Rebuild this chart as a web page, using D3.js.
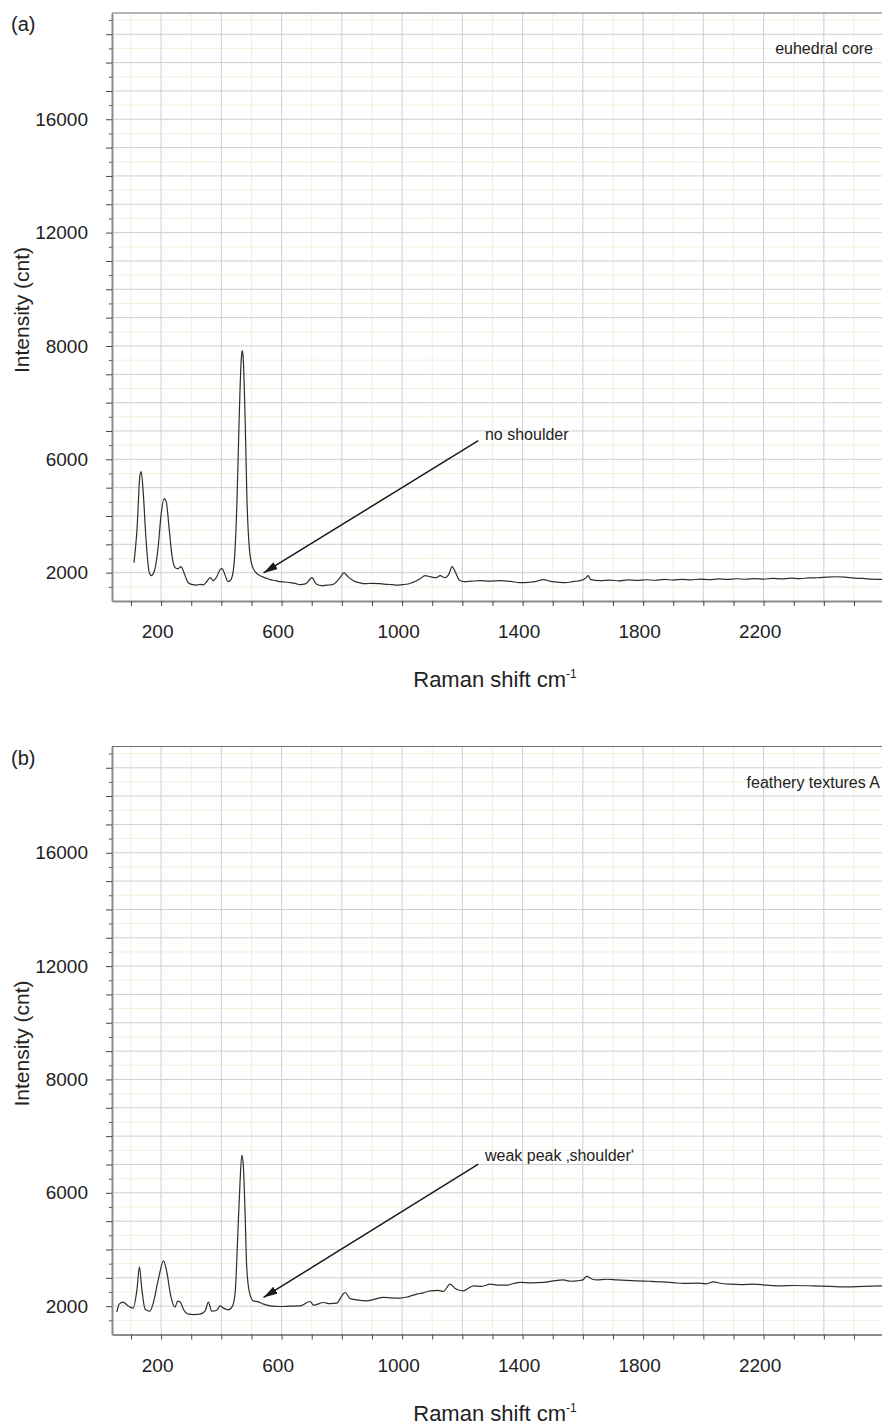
<!DOCTYPE html>
<html>
<head>
<meta charset="utf-8">
<script src="https://cdn.jsdelivr.net/npm/d3@7"></script>
<style>
  body { margin: 0; background: #fff; }
  svg text { font-family: "Liberation Sans", Arial, sans-serif; fill: #222; }
</style>
</head>
<body>
<div class="vis"></div>
<script>
(function() {
  'use strict';

  // tick labels as printed on the figure
  var xTickValues = [200, 600, 1000, 1400, 1800, 2200];
  var yTickValues = [2000, 6000, 10000, 14000, 18000];
  var yTickLabels = ['2000', '6000', '8000', '12000', '16000'];

  // (a) euhedral core
  var shiftA = [110, 120, 130, 134, 140, 150, 160, 167, 177, 190, 200, 210, 217, 227, 237, 247, 256, 266, 276, 290,
    306, 318, 329, 340, 349, 363, 373, 383, 396, 402, 412, 422, 432, 442, 452, 459, 466, 469, 472, 479,
    485, 492, 502, 515, 535, 550, 562, 580, 595, 612, 628, 645, 661, 681, 701, 714, 734, 750, 768, 794,
    807, 820, 844, 860, 877, 900, 927, 950, 967, 985, 1000, 1020, 1033, 1060, 1076, 1093, 1113, 1126, 1143, 1156,
    1166, 1176, 1189, 1206, 1230, 1259, 1290, 1325, 1360, 1392, 1420, 1441, 1468, 1498, 1520, 1541, 1570, 1591, 1611, 1617,
    1627, 1657, 1690, 1720, 1750, 1780, 1810, 1840, 1870, 1900, 1930, 1960, 1990, 2020, 2050, 2080, 2110, 2140, 2170, 2200,
    2230, 2260, 2290, 2320, 2350, 2380, 2410, 2440, 2470, 2500, 2530, 2560, 2593];
  var intensityA = [2353, 3518, 5460, 5565, 4930, 3165, 2035, 1894, 2035, 2880, 4047, 4612, 4506, 3518, 2530, 2176, 2140, 2212, 2000, 1647,
    1576, 1560, 1590, 1570, 1647, 1823, 1717, 1823, 2106, 2141, 1930, 1682, 1753, 2282, 4577, 7400, 9519, 9837, 9660, 7400,
    4577, 2988, 2247, 2000, 1859, 1800, 1753, 1720, 1682, 1670, 1647, 1620, 1576, 1611, 1823, 1611, 1541, 1560, 1576, 1823,
    2000, 1859, 1682, 1640, 1611, 1625, 1611, 1590, 1576, 1560, 1576, 1600, 1647, 1788, 1894, 1859, 1823, 1894, 1823, 1965,
    2212, 2035, 1753, 1682, 1700, 1717, 1700, 1717, 1690, 1647, 1660, 1682, 1753, 1682, 1660, 1647, 1690, 1717, 1823, 1894,
    1753, 1717, 1735, 1710, 1745, 1725, 1750, 1732, 1760, 1740, 1765, 1748, 1770, 1752, 1778, 1760, 1785, 1768, 1790, 1775,
    1795, 1780, 1805, 1790, 1815, 1820, 1845, 1855, 1840, 1810, 1795, 1770, 1760];

  // (b) feathery textures A
  var shiftB = [53, 61, 74, 88, 97, 107, 120, 128, 136, 147, 163, 173, 191, 208, 219, 232, 246, 255, 264, 274,
    291, 310, 329, 346, 357, 368, 385, 396, 407, 423, 437, 446, 454, 462, 468, 473, 479, 484, 493, 506,
    523, 540, 562, 595, 628, 661, 695, 706, 739, 760, 783, 800, 811, 827, 849, 882, 910, 938, 965, 993,
    1020, 1049, 1070, 1093, 1120, 1137, 1159, 1176, 1203, 1237, 1265, 1292, 1320, 1347, 1370, 1392, 1430, 1469, 1502, 1535,
    1560, 1580, 1600, 1613, 1630, 1646, 1680, 1713, 1745, 1779, 1820, 1867, 1900, 1933, 1978, 2010, 2033, 2060, 2088, 2125,
    2166, 2210, 2254, 2300, 2365, 2420, 2476, 2530, 2593];
  var intensityB = [1788, 2070, 2140, 2030, 1965, 1930, 2600, 3377, 2600, 1894, 1823, 2070, 2953, 3600, 3200, 2364, 1965, 2176, 2141, 1894,
    1717, 1700, 1717, 1823, 2141, 1823, 1858, 2010, 1930, 1870, 2000, 2494, 4365, 6377, 7330, 6953, 5188, 3423, 2494, 2188,
    2152, 2070, 2010, 1988, 2000, 2010, 2165, 2035, 2130, 2090, 2105, 2364, 2483, 2270, 2222, 2188, 2250, 2307, 2290, 2282,
    2330, 2424, 2470, 2540, 2560, 2519, 2777, 2625, 2540, 2717, 2700, 2777, 2740, 2741, 2800, 2837, 2820, 2837, 2893, 2928,
    2880, 2893, 2930, 3048, 2960, 2928, 2950, 2928, 2910, 2893, 2880, 2858, 2830, 2801, 2812, 2790, 2858, 2800, 2777, 2760,
    2777, 2740, 2717, 2730, 2717, 2700, 2681, 2700, 2717];

  var panels = [
    {tag: '(a)', note: 'euhedral core', top: 13, shift: shiftA, intensity: intensityA, noteRight: 9,
      arrowText: 'no shoulder', tip: [540, 1990], tail: [1253, 6660], textAt: [1275, 6690]},
    {tag: '(b)', note: 'feathery textures A', top: 746.5, shift: shiftB, intensity: intensityB, noteRight: 2,
      arrowText: 'weak peak \u201Ashoulder\u2018', tip: [540, 2307], tail: [1253, 7013], textAt: [1275, 7130]}
  ];

  var W = 882, H = 1425,
    left = 112,
    width = W - left,
    height = 588;

  var svg = d3.select('.vis').append('svg')
    .attr('width', W)
    .attr('height', H);

  var x = d3.scaleLinear().domain([37, 2593]).range([0, width]);
  var y = d3.scaleLinear().domain([1000, 21750]).range([height, 0]);

  var defs = svg.append('defs');
  defs.append('clipPath')
      .attr('id', 'plotclip')
    .append('rect')
      .attr('width', width)
      .attr('height', height);

  defs.append('marker')
      .attr('id', 'head')
      .attr('viewBox', '0 0 14 8')
      .attr('refX', 14)
      .attr('refY', 4)
      .attr('markerWidth', 14)
      .attr('markerHeight', 8)
      .attr('markerUnits', 'userSpaceOnUse')
      .attr('orient', 'auto')
    .append('path')
      .attr('d', 'M0,0L14,4L0,8z')
      .attr('fill', '#1a1a1a');

  var xGrid = d3.range(100, 2600, 100),
    yGrid = d3.range(1500, 21750, 500);

  var line = d3.line()
    .curve(d3.curveMonotoneX)
    .x(function(d) { return x(d[0]); })
    .y(function(d) { return y(d[1]); });

  panels.forEach(function(p) {
    var g = svg.append('g').attr('transform', 'translate(' + left + ',' + p.top + ')');

    // light grid first, then dark grid
    g.selectAll('.vminor').data(xGrid.filter(function(v) { return v % 200 !== 0; }))
      .enter().append('line')
        .attr('x1', function(d) { return x(d); }).attr('x2', function(d) { return x(d); })
        .attr('y1', 0).attr('y2', height)
        .attr('stroke', '#f1f0dc').attr('stroke-width', 1);
    g.selectAll('.hminor').data(yGrid.filter(function(v) { return v % 1000 !== 0; }))
      .enter().append('line')
        .attr('y1', function(d) { return y(d); }).attr('y2', function(d) { return y(d); })
        .attr('x1', 0).attr('x2', width)
        .attr('stroke', '#f1f0dc').attr('stroke-width', 1);
    g.selectAll('.vmajor').data(xGrid.filter(function(v) { return v % 200 === 0; }))
      .enter().append('line')
        .attr('x1', function(d) { return x(d); }).attr('x2', function(d) { return x(d); })
        .attr('y1', 0).attr('y2', height)
        .attr('stroke', '#cfcfcf').attr('stroke-width', 1);
    g.selectAll('.hmajor').data(yGrid.filter(function(v) { return v % 1000 === 0; }))
      .enter().append('line')
        .attr('y1', function(d) { return y(d); }).attr('y2', function(d) { return y(d); })
        .attr('x1', 0).attr('x2', width)
        .attr('stroke', '#cfcfcf').attr('stroke-width', 1);

    // top frame
    g.append('line')
      .attr('x1', 0).attr('x2', width).attr('y1', 0).attr('y2', 0)
      .attr('stroke', '#6e6e6e').attr('stroke-width', 1.2);

    // y axis: minor + major ticks
    g.append('g')
      .call(d3.axisLeft(y).tickValues(yGrid.filter(function(v) { return v % 1000 !== 0; }))
        .tickSize(3).tickFormat(''))
      .call(function(a) { a.select('.domain').remove(); })
      .selectAll('line').attr('stroke', '#555');
    var ya = g.append('g')
      .call(d3.axisLeft(y)
        .tickValues(yGrid.filter(function(v) { return v % 1000 === 0; }))
        .tickSize(6).tickSizeOuter(0)
        .tickFormat(function(v) {
          var i = yTickValues.indexOf(v);
          return i < 0 ? '' : yTickLabels[i];
        }));
    ya.select('.domain').attr('stroke', '#8c8c8c').attr('stroke-width', 2);
    ya.selectAll('.tick line').attr('stroke', '#444');
    ya.selectAll('text').attr('x', -24).attr('font-size', 19).attr('fill', '#222');

    // x axis
    var xa = g.append('g')
      .attr('transform', 'translate(0,' + height + ')')
      .call(d3.axisBottom(x)
        .tickValues(xGrid)
        .tickSize(5).tickSizeOuter(0)
        .tickFormat(function(v) { return xTickValues.indexOf(v) < 0 ? '' : v; }));
    xa.select('.domain').attr('stroke', '#8c8c8c').attr('stroke-width', 2);
    xa.selectAll('.tick line').attr('stroke', '#444');
    xa.selectAll('text').attr('y', 24).attr('dx', -4).attr('font-size', 19).attr('fill', '#222');

    // spectrum
    g.append('path')
      .datum(d3.zip(p.shift, p.intensity))
      .attr('clip-path', 'url(#plotclip)')
      .attr('d', line)
      .attr('fill', 'none')
      .attr('stroke', '#2e2e2e')
      .attr('stroke-width', 1.2)
      .attr('stroke-linejoin', 'round');

    // annotation arrow
    g.append('line')
      .attr('x1', x(p.tail[0])).attr('y1', y(p.tail[1]))
      .attr('x2', x(p.tip[0])).attr('y2', y(p.tip[1]))
      .attr('stroke', '#1a1a1a')
      .attr('stroke-width', 1.5)
      .attr('marker-end', 'url(#head)');
    g.append('text')
      .attr('x', x(p.textAt[0])).attr('y', y(p.textAt[1]))
      .attr('font-size', 16)
      .text(p.arrowText);

    // sample note, top right
    g.append('text')
      .attr('x', width - p.noteRight)
      .attr('y', 41)
      .attr('text-anchor', 'end')
      .attr('font-size', 16)
      .text(p.note);

    // panel tag
    svg.append('text')
      .attr('x', 11).attr('y', p.top + 18)
      .attr('font-size', 20)
      .text(p.tag);

    // axis titles
    var xt = svg.append('text')
      .attr('x', left + 383).attr('y', p.top + height + 86)
      .attr('text-anchor', 'middle')
      .attr('font-size', 22);
    xt.append('tspan').text('Raman shift cm');
    xt.append('tspan').attr('font-size', 12).attr('dy', -9).text('-1');

    svg.append('text')
      .attr('transform', 'translate(29,' + (p.top + 297) + ') rotate(-90)')
      .attr('text-anchor', 'middle')
      .attr('font-size', 21)
      .text('Intensity (cnt)');
  });
}());
</script>
</body>
</html>
